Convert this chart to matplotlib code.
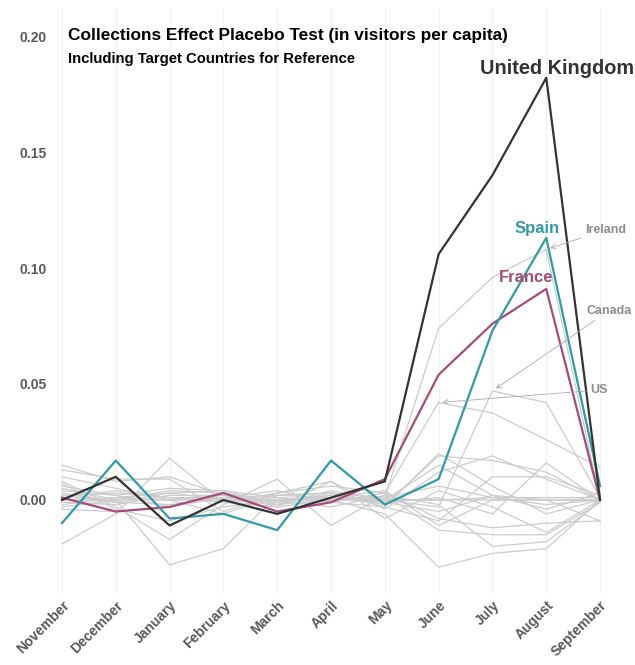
"""
Collections effect placebo test: visitors per capita, placebo countries in grey,
target countries highlighted.
"""
import matplotlib
matplotlib.use("Agg")
import matplotlib.pyplot as plt
import numpy as np

plt.rcParams["font.family"] = ["Liberation Sans", "DejaVu Sans"]

MONTHS = ["November", "December", "January", "February", "March", "April",
          "May", "June", "July", "August", "September"]

UK = [0.000, 0.010, -0.011, 0.000, -0.006, 0.001, 0.008, 0.106, 0.140, 0.182, 0.000]
SPAIN = [-0.010, 0.017, -0.008, -0.006, -0.013, 0.017, -0.002, 0.009, 0.073, 0.113, 0.006]
FRANCE = [0.001, -0.005, -0.003, 0.003, -0.005, -0.001, 0.009, 0.054, 0.076, 0.091, 0.000]

IRELAND = [0.004, 0.002, -0.003, 0.001, 0.002, 0.003, 0.001, 0.074, 0.096, 0.108, 0.000]
CANADA = [0.002, -0.001, 0.003, 0.000, -0.002, 0.004, 0.000, -0.003, 0.047, 0.042, 0.001]
US = [-0.002, 0.001, 0.000, 0.002, 0.001, -0.001, 0.003, 0.042, 0.0375, 0.026, 0.014]

OTHER_PLACEBOS = [
    [0.015, 0.008, 0.010, 0.002, -0.001, 0.002, -0.002, 0.019, 0.017, 0.012, 0.000],
    [0.013, 0.009, 0.009, -0.005, 0.003, 0.008, -0.004, 0.012, 0.019, 0.009, 0.000],
    [-0.019, -0.006, 0.018, -0.001, -0.003, 0.000, -0.006, -0.029, -0.023, -0.021, 0.000],
    [0.008, -0.003, -0.017, -0.002, 0.009, -0.011, 0.002, -0.013, -0.015, -0.015, -0.001],
    [0.005, 0.000, -0.028, -0.021, 0.002, 0.003, -0.001, 0.001, -0.006, 0.016, 0.000],
    [0.000, 0.001, 0.003, 0.004, 0.001, 0.000, 0.000, 0.000, 0.000, 0.000, 0.000],
    [-0.001, -0.002, 0.002, 0.002, 0.000, 0.001, -0.001, -0.005, 0.002, 0.000, -0.009],
    [0.002, 0.003, 0.001, -0.001, 0.003, 0.006, 0.003, -0.008, -0.012, -0.010, -0.009],
    [-0.003, 0.000, 0.004, 0.003, -0.001, 0.002, 0.000, 0.015, 0.002, -0.004, 0.003],
    [0.007, -0.004, -0.009, -0.003, 0.000, -0.003, 0.002, -0.002, -0.020, -0.018, -0.001],
    [0.001, 0.004, 0.001, 0.001, 0.004, -0.001, -0.003, -0.009, 0.010, 0.010, 0.002],
    [-0.004, -0.005, -0.003, 0.003, -0.003, 0.008, -0.008, 0.004, -0.003, -0.014, 0.000],
    [0.010, 0.005, 0.000, -0.006, 0.002, 0.001, 0.004, -0.011, 0.000, 0.000, 0.000],
    [0.000, 0.000, 0.000, 0.000, 0.000, 0.000, 0.000, 0.000, 0.001, 0.001, 0.001],
    [0.003, -0.001, -0.002, 0.001, -0.002, 0.000, 0.001, 0.006, 0.001, -0.002, 0.000],
    [0.006, 0.002, 0.005, 0.004, -0.002, 0.003, -0.003, 0.020, 0.006, -0.006, 0.000],
]

YTICKS = [0.00, 0.05, 0.10, 0.15, 0.20]

GREY = "#CCCCCC"
UK_COL = "#333333"
SPAIN_COL = "#3399A6"
FRANCE_COL = "#A34D78"
LABEL_GREY = "#8C8C8C"
TICK_COL = "#595959"

fig = plt.figure(figsize=(6.35, 6.65), dpi=100)
fig.patch.set_facecolor("white")
ax = fig.add_axes([0.0866, 0.1083, 0.8694, 0.8797])

x = np.arange(len(MONTHS))

for series in OTHER_PLACEBOS + [IRELAND, CANADA, US]:
    ax.plot(x, series, color=GREY, lw=0.9, zorder=2)

ax.plot(x, FRANCE, color=FRANCE_COL, lw=1.6, zorder=4)
ax.plot(x, SPAIN, color=SPAIN_COL, lw=1.6, zorder=5)
ax.plot(x, UK, color=UK_COL, lw=1.6, zorder=6)

# direct labels for target countries
ax.text(9.2, 0.1862, "United Kingdom", color=UK_COL, fontsize=14.3,
        fontweight="bold", ha="center", va="center", zorder=7)
ax.text(8.83, 0.117, "Spain", color=SPAIN_COL, fontsize=12,
        fontweight="bold", ha="center", va="center", zorder=7)
ax.text(8.62, 0.0957, "France", color=FRANCE_COL, fontsize=12,
        fontweight="bold", ha="center", va="center", zorder=7)

# repelled labels for a few placebo countries
arrow = dict(arrowstyle="->", color="#AAAAAA", lw=0.6, mutation_scale=8,
             shrinkA=1, shrinkB=3)
ax.annotate("Ireland", xy=(x[9], IRELAND[9]), xytext=(9.72, 0.1164),
            color=LABEL_GREY, fontsize=9, fontweight="bold",
            ha="left", va="center", arrowprops=arrow, zorder=7)
ax.annotate("Canada", xy=(x[8], CANADA[8]), xytext=(9.74, 0.0815),
            color=LABEL_GREY, fontsize=9, fontweight="bold",
            ha="left", va="center", arrowprops=arrow, zorder=7)
ax.annotate("US", xy=(x[7], US[7]), xytext=(9.82, 0.0474),
            color=LABEL_GREY, fontsize=9, fontweight="bold",
            ha="left", va="center", arrowprops=arrow, zorder=7)

ax.set_xlim(-0.13, 10.13)
ax.set_ylim(-0.0401, 0.2121)
ax.set_xticks(x)
ax.set_xticklabels(MONTHS, rotation=45, ha="right", rotation_mode="anchor",
                   fontsize=10, fontweight="bold", color=TICK_COL)
ax.set_yticks(YTICKS)
ax.set_yticklabels([f"{v:.2f}" for v in YTICKS], fontsize=10,
                   fontweight="bold", color=TICK_COL)
ax.tick_params(length=0, pad=6)
ax.tick_params(axis="x", pad=4)
for spine in ax.spines.values():
    spine.set_visible(False)
ax.xaxis.grid(True, color="#EEEEEE", lw=0.6, zorder=0)
ax.yaxis.grid(False)
ax.set_axisbelow(True)

fig.text(0.107, 0.946, "Collections Effect Placebo Test (in visitors per capita)",
         fontsize=12.4, fontweight="bold", color="black", va="center")
fig.text(0.107, 0.911, "Including Target Countries for Reference",
         fontsize=10.7, fontweight="bold", color="black", va="center")

fig.savefig("out.png", dpi=100, facecolor="white")
